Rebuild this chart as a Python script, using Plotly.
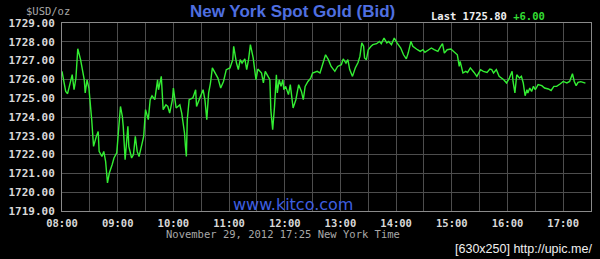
import plotly.graph_objects as go
import pandas as pd

# ---- data ----
minutes_after_open = [
    0, 4, 6, 11, 13, 15, 17, 20, 24, 25, 27, 29, 32, 34, 37, 39, 40, 43, 45, 47,
    49, 51, 54, 56, 59, 61, 63, 65, 66, 68, 71, 72, 75, 77, 79, 81, 83, 86, 88, 90,
    93, 95, 97, 100, 103, 104, 107, 109, 112, 114, 116, 119, 120, 123, 127, 129, 132, 133, 134, 135,
    137, 141, 144, 145, 149, 152, 154, 156, 158, 160, 162, 166, 168, 171, 174, 177, 181, 184, 185, 188,
    190, 192, 194, 197, 199, 201, 203, 206, 209, 211, 215, 217, 219, 222, 224, 225, 227, 229, 231, 232,
    234, 236, 238, 239, 241, 244, 246, 249, 252, 255, 258, 260, 262, 265, 268, 270, 275, 278, 281, 284,
    287, 290, 294, 297, 301, 303, 306, 308, 310, 313, 316, 319, 321, 323, 325, 326, 328, 330, 333, 335,
    339, 342, 344, 347, 350, 352, 355, 358, 361, 365, 368, 371, 373, 376, 378, 380, 383, 386, 389, 391,
    394, 398, 401, 405, 408, 410, 412, 415, 419, 422, 426, 428, 429, 432, 435, 437, 440, 444, 447, 451,
    454, 458, 461, 463, 465, 468, 471, 476, 479, 482, 485, 486, 488, 490, 493, 495, 497, 499, 501, 502,
    504, 506, 508, 510, 513, 517, 520, 524, 527, 530, 533, 537, 540, 544, 547, 550, 552, 554, 556, 559,
    564,
]
bid_price = [
    1726.43, 1725.36, 1725.24, 1726.25, 1725.45, 1726.07, 1727.63, 1727.05, 1725.98, 1725.28,
    1725.98, 1725.54, 1723.86, 1722.44, 1722.97, 1723.23, 1722.17, 1721.90, 1722.17, 1721.64,
    1720.49, 1721.02, 1721.46, 1721.82, 1722.09, 1723.15, 1724.56, 1724.03, 1723.50, 1721.73,
    1723.50, 1722.44, 1721.82, 1722.00, 1722.97, 1722.17, 1721.90, 1722.53, 1722.97, 1724.39,
    1723.86, 1724.92, 1725.13, 1724.92, 1725.98, 1725.45, 1726.16, 1724.39, 1724.65, 1724.56,
    1724.21, 1724.92, 1725.54, 1724.48, 1724.65, 1724.21, 1723.15, 1722.44, 1721.90, 1723.86,
    1724.92, 1725.01, 1725.45, 1724.56, 1725.10, 1725.45, 1724.92, 1723.86, 1725.28, 1725.81,
    1726.61, 1726.25, 1726.07, 1725.54, 1725.89, 1726.52, 1726.61, 1727.05, 1727.76, 1726.87,
    1726.52, 1727.05, 1726.87, 1727.09, 1726.52, 1727.05, 1727.85, 1727.14, 1725.98, 1726.55,
    1726.34, 1725.81, 1726.43, 1726.16, 1725.98, 1724.39, 1723.32, 1724.56, 1726.25, 1725.28,
    1725.98, 1725.63, 1725.98, 1725.45, 1725.63, 1725.19, 1725.72, 1724.48, 1724.92, 1725.72,
    1725.36, 1724.92, 1725.63, 1725.89, 1726.07, 1726.34, 1726.43, 1726.34, 1726.87, 1727.31,
    1727.05, 1726.69, 1726.43, 1726.69, 1726.78, 1727.09, 1726.87, 1727.05, 1726.52, 1726.16,
    1726.61, 1726.90, 1727.22, 1727.94, 1727.76, 1727.14, 1727.05, 1727.58, 1727.76, 1727.85,
    1727.90, 1728.02, 1727.90, 1728.20, 1727.94, 1728.02, 1727.85, 1728.20, 1727.94, 1727.67,
    1727.31, 1727.09, 1727.40, 1728.02, 1727.76, 1727.67, 1727.58, 1727.49, 1727.58, 1727.44,
    1727.54, 1727.67, 1727.58, 1727.49, 1727.76, 1727.90, 1727.40, 1727.58, 1727.62, 1727.49,
    1727.31, 1726.69, 1726.96, 1726.34, 1726.43, 1726.37, 1726.61, 1726.37, 1726.16, 1726.52,
    1726.43, 1726.37, 1726.55, 1726.52, 1726.34, 1726.52, 1726.16, 1725.98, 1725.81, 1726.07,
    1726.43, 1725.89, 1725.28, 1726.25, 1726.07, 1726.16, 1725.81, 1725.13, 1725.45, 1725.28,
    1725.54, 1725.36, 1725.63, 1725.45, 1725.72, 1725.67, 1725.54, 1725.49, 1725.41, 1725.63,
    1725.63, 1725.77, 1725.89, 1725.81, 1725.89, 1726.30, 1725.89, 1725.67, 1725.84, 1725.88,
    1725.80,
]
hour_labels = ["08:00", "09:00", "10:00", "11:00", "12:00", "13:00", "14:00", "15:00", "16:00", "17:00"]
y_ticks = [1719, 1720, 1721, 1722, 1723, 1724, 1725, 1726, 1727, 1728, 1729]
session_date = "2012-11-29"
last_price = "1725.80"
change = "+6.00"

# ---- build ----
base = pd.Timestamp(session_date + " 08:00")
times = [base + pd.Timedelta(minutes=m) for m in minutes_after_open]
hour_vals = [pd.Timestamp(session_date + " " + h) for h in hour_labels]

MONO = "DejaVu Sans Mono"
fig = go.Figure()
fig.add_trace(go.Scatter(
    x=times, y=bid_price, mode="lines",
    line=dict(color="#33ee33", width=1.4), hoverinfo="skip", showlegend=False,
))

grid = "#4d4d4d"
fig.update_layout(
    width=600, height=259,
    margin=dict(l=57, r=8, t=23, b=48),
    paper_bgcolor="black", plot_bgcolor="black",
    showlegend=False,
    xaxis=dict(
        type="date",
        range=[base, base + pd.Timedelta(minutes=570)],
        tickvals=hour_vals, ticktext=hour_labels,
        showgrid=True, gridcolor=grid, gridwidth=1,
        minor=dict(dtick=30 * 60 * 1000, showgrid=True, gridcolor=grid, gridwidth=1),
        showline=True, linecolor="#8a8a8a", linewidth=1, mirror=True,
        ticks="", zeroline=False, ticklabelstandoff=2,
        tickfont=dict(family=MONO, size=10.5, color="#d8d8d8", weight="bold"),
    ),
    yaxis=dict(
        range=[1719, 1729],
        tickvals=y_ticks, ticktext=[f"{v:.2f}" for v in y_ticks],
        showgrid=True, gridcolor=grid, gridwidth=1,
        showline=True, linecolor="#8a8a8a", linewidth=1, mirror=True,
        ticks="", zeroline=False, ticklabelstandoff=4,
        tickfont=dict(family=MONO, size=11, color="#d8d8d8", weight="bold"),
    ),
)

def px(xp):
    return (xp - 57) / 535.0

def py(yp):
    return (211 - yp) / 188.0

ann = [
    dict(text="New York Spot Gold (Bid)", x=px(290), y=py(12), xanchor="center", yanchor="middle",
         font=dict(family="Liberation Sans", size=17, color="#4f6fe0", weight="bold")),
    dict(text="$USD/oz", x=px(19), y=py(10.5), xanchor="left", yanchor="middle",
         font=dict(family=MONO, size=10.5, color="#a8a8a8")),
    dict(text=f"<b>Last {last_price} <span style='color:#33dd33'>{change}</span></b>",
         x=px(428), y=py(16), xanchor="left", yanchor="middle",
         font=dict(family=MONO, size=10.5, color="#f0f0f0")),
    dict(text="www.kitco.com", x=px(290.5), y=py(204), xanchor="center", yanchor="middle",
         font=dict(family="DejaVu Sans", size=16, color="#3e5fe0")),
    dict(text="November 29, 2012 17:25 New York Time", x=px(280.5), y=py(233.5),
         xanchor="center", yanchor="middle", borderpad=0,
         font=dict(family=MONO, size=10.5, color="#a8a8a8")),
    dict(text="[630x250] http://upic.me/", x=px(595), y=py(249), xanchor="right", yanchor="middle",
         font=dict(family="Liberation Sans", size=12.5, color="#f0f0f0")),
]
for a in ann:
    a.update(xref="paper", yref="paper", showarrow=False)
fig.update_layout(annotations=ann)

fig.write_html("out.html")
